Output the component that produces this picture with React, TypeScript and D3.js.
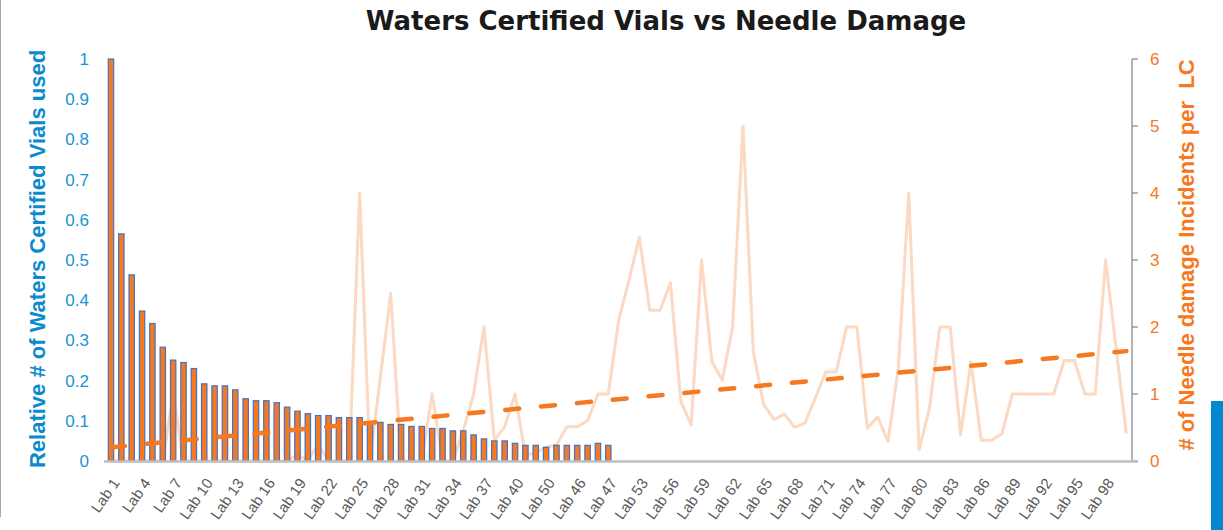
import React, { Component } from 'react'
import * as d3 from 'd3'

const labs = [
    'Lab 1', 'Lab 2', 'Lab 3', 'Lab 4', 'Lab 5', 'Lab 6', 'Lab 7', 'Lab 8', 'Lab 9', 'Lab 10',
    'Lab 11', 'Lab 12', 'Lab 13', 'Lab 14', 'Lab 15', 'Lab 16', 'Lab 17', 'Lab 18', 'Lab 19', 'Lab 20',
    'Lab 21', 'Lab 22', 'Lab 23', 'Lab 24', 'Lab 25', 'Lab 26', 'Lab 27', 'Lab 28', 'Lab 29', 'Lab 30',
    'Lab 31', 'Lab 32', 'Lab 33', 'Lab 34', 'Lab 35', 'Lab 36', 'Lab 37', 'Lab 38', 'Lab 39', 'Lab 40',
    'Lab 41', 'Lab 42', 'Lab 50', 'Lab 43', 'Lab 44', 'Lab 46', 'Lab 45', 'Lab 48', 'Lab 47', 'Lab 49',
    'Lab 51', 'Lab 53', 'Lab 54', 'Lab 55', 'Lab 56', 'Lab 57', 'Lab 58', 'Lab 59', 'Lab 60', 'Lab 61',
    'Lab 62', 'Lab 63', 'Lab 64', 'Lab 65', 'Lab 66', 'Lab 67', 'Lab 68', 'Lab 69', 'Lab 70', 'Lab 71',
    'Lab 72', 'Lab 73', 'Lab 74', 'Lab 75', 'Lab 76', 'Lab 77', 'Lab 78', 'Lab 79', 'Lab 80', 'Lab 81',
    'Lab 82', 'Lab 83', 'Lab 84', 'Lab 85', 'Lab 86', 'Lab 87', 'Lab 88', 'Lab 89', 'Lab 90', 'Lab 91',
    'Lab 92', 'Lab 93', 'Lab 94', 'Lab 95', 'Lab 96', 'Lab 97', 'Lab 98', 'Lab 99', 'Lab 100'
]

// relative # of certified vials (only the first 49 labs have a value)
const vials = [
    1.0, 0.565, 0.463, 0.373, 0.342, 0.283, 0.251, 0.245, 0.23, 0.192,
    0.187, 0.187, 0.177, 0.155, 0.15, 0.15, 0.145, 0.134, 0.124, 0.118,
    0.113, 0.113, 0.108, 0.108, 0.108, 0.097, 0.096, 0.091, 0.091, 0.086,
    0.086, 0.081, 0.081, 0.075, 0.075, 0.065, 0.055, 0.05, 0.05, 0.044,
    0.039, 0.039, 0.034, 0.039, 0.039, 0.039, 0.039, 0.044, 0.039
]

// needle damage incidents per LC
const needleDamage = [
    0, 0, 0, 0, 0, 0, 1, 0, 0, 0,
    0, 0, 0, 0, 0, 0, 0, 0, 0.1, 0,
    0.25, 0, 0, 0, 4, 0, 1.25, 2.5, 0, 0,
    0, 1, 0, 0, 0.45, 1, 2, 0.31, 0.51, 1,
    0.09, 0.12, 0.21, 0.24, 0.51, 0.51, 0.6, 1, 1, 2.1,
    2.7, 3.34, 2.25, 2.25, 2.66, 0.89, 0.54, 3, 1.48, 1.21,
    2, 5, 1.63, 0.84, 0.62, 0.7, 0.5, 0.57, 0.95, 1.33,
    1.33, 2, 2, 0.49, 0.66, 0.29, 1.4, 4, 0.17, 0.79,
    2, 2, 0.39, 1.48, 0.31, 0.31, 0.41, 1, 1, 1,
    1, 1, 1.5, 1.5, 1, 1, 3, 1.7, 0.41
]

const leftTicks = [0, 0.1, 0.2, 0.3, 0.4, 0.5, 0.6, 0.7, 0.8, 0.9, 1]
const rightTicks = [0, 1, 2, 3, 4, 5, 6]

const BLUE = '#1a93d3'
const ORANGE = '#f47920'

class App extends Component {
    svgRef = React.createRef<SVGSVGElement>()

    componentDidMount() {
        this.drawChart()
    }

    drawChart() {
        const svg = d3.select(this.svgRef.current)
        svg.selectAll('*').remove()

        const x = d3.scaleBand<string>()
            .domain(labs)
            .range([105.8, 1131.5])
            .paddingInner(0.48)
            .paddingOuter(0.24)
        const yLeft = d3.scaleLinear().domain([0, 1]).range([461, 59])
        const yRight = d3.scaleLinear().domain([0, 6]).range([461, 59])
        const cx = (d: string) => (x(d) as number) + x.bandwidth() / 2

        // page edge
        svg.append('line')
            .attr('x1', 0.5).attr('x2', 0.5)
            .attr('y1', 0).attr('y2', 517)
            .attr('stroke', '#a6a6a6')

        svg.append('text')
            .attr('x', 666)
            .attr('y', 30)
            .attr('text-anchor', 'middle')
            .style('font-family', 'DejaVu Sans, sans-serif')
            .style('font-weight', 'bold')
            .style('font-size', '26px')
            .attr('fill', '#1a1a1a')
            .text('Waters Certified Vials vs Needle Damage')

        // left axis labels
        svg.append('g').selectAll('text')
            .data(leftTicks)
            .enter().append('text')
            .attr('x', 89)
            .attr('y', d => yLeft(d))
            .attr('dy', '0.35em')
            .attr('text-anchor', 'end')
            .style('font-family', 'Liberation Sans, Arial, sans-serif')
            .style('font-size', '17px')
            .attr('fill', BLUE)
            .text(d => d3.format('~g')(d))

        svg.append('text')
            .attr('transform', 'translate(37,259) rotate(-90)')
            .attr('dy', '0.35em')
            .attr('text-anchor', 'middle')
            .style('font-family', 'Liberation Sans, Arial, sans-serif')
            .style('font-weight', 'bold')
            .style('font-size', '22px')
            .attr('fill', '#0a8bd0')
            .text('Relative # of Waters Certified Vials used')

        // right axis
        svg.append('line')
            .attr('x1', 1132).attr('x2', 1132)
            .attr('y1', 59).attr('y2', 461)
            .attr('stroke', '#8c8c8c')
            .attr('stroke-width', 1.3)

        const rt = svg.append('g').selectAll('g')
            .data(rightTicks)
            .enter().append('g')
        rt.append('line')
            .attr('x1', 1132).attr('x2', 1138)
            .attr('y1', d => yRight(d)).attr('y2', d => yRight(d))
            .attr('stroke', '#8c8c8c')
            .attr('stroke-width', 1.3)
        rt.append('text')
            .attr('x', 1150)
            .attr('y', d => yRight(d))
            .attr('dy', '0.35em')
            .style('font-family', 'Liberation Sans, Arial, sans-serif')
            .style('font-size', '17px')
            .attr('fill', ORANGE)
            .text(d => d)

        svg.append('text')
            .attr('transform', 'translate(1186,255) rotate(-90)')
            .attr('dy', '0.35em')
            .attr('text-anchor', 'middle')
            .style('font-family', 'Liberation Sans, Arial, sans-serif')
            .style('font-weight', 'bold')
            .style('font-size', '22px')
            .attr('fill', ORANGE)
            .style('white-space', 'pre')
            .text('# of Needle damage Incidents per  LC')

        // needle damage line (behind the bars)
        const line = d3.line<number>()
            .x((d, i) => cx(labs[i]))
            .y(d => yRight(d))
        svg.append('path')
            .datum(needleDamage)
            .attr('d', line)
            .attr('fill', 'none')
            .attr('stroke', '#fbd9c2')
            .attr('stroke-width', 3)
            .attr('stroke-linejoin', 'round')

        // vial bars
        svg.append('g').selectAll('rect')
            .data(vials)
            .enter().append('rect')
            .attr('x', (d, i) => cx(labs[i]) - 2.7)
            .attr('width', 5.4)
            .attr('y', d => yLeft(d))
            .attr('height', d => yLeft(0) - yLeft(d))
            .attr('fill', ORANGE)
            .attr('stroke', '#4472c4')
            .attr('stroke-width', 1.2)

        // x axis
        svg.append('line')
            .attr('x1', 104).attr('x2', 1138)
            .attr('y1', 461.5).attr('y2', 461.5)
            .attr('stroke', '#bfbfbf')
            .attr('stroke-width', 2.5)

        svg.append('g').selectAll('text')
            .data(labs.filter((d, i) => i % 3 === 0))
            .enter().append('text')
            .attr('transform', d => 'translate(' + (cx(d) + 5) + ',480) rotate(-55)')
            .attr('dy', '0.35em')
            .attr('text-anchor', 'end')
            .style('font-family', 'Liberation Sans, Arial, sans-serif')
            .style('font-size', '15px')
            .attr('fill', '#595959')
            .text(d => d)

        // linear trend of needle damage
        const idx = needleDamage.map((d, i) => i)
        const mx = d3.mean(idx) as number
        const my = d3.mean(needleDamage) as number
        const slope = (d3.sum(idx, i => (i - mx) * (needleDamage[i] - my)) as number) /
            (d3.sum(idx, i => (i - mx) * (i - mx)) as number)
        const trend = [0, labs.length - 1].map(i => ({ i, v: my + slope * (i - mx) }))
        svg.append('path')
            .datum(trend)
            .attr('d', d3.line<{ i: number, v: number }>()
                .x(d => cx(labs[d.i]))
                .y(d => yRight(d.v)))
            .attr('fill', 'none')
            .attr('stroke', ORANGE)
            .attr('stroke-width', 4.5)
            .attr('stroke-linecap', 'round')
            .attr('stroke-dasharray', '14 22')

        // side marker
        svg.append('rect')
            .attr('x', 1211).attr('y', 401)
            .attr('width', 12).attr('height', 129)
            .attr('fill', '#0288ce')
    }

    render() {
        return (
            <svg
                ref={this.svgRef}
                width={1223}
                height={530}
                style={{ position: 'absolute', left: 0, top: 0, background: '#fff' }}
            />
        )
    }
}

export default App
